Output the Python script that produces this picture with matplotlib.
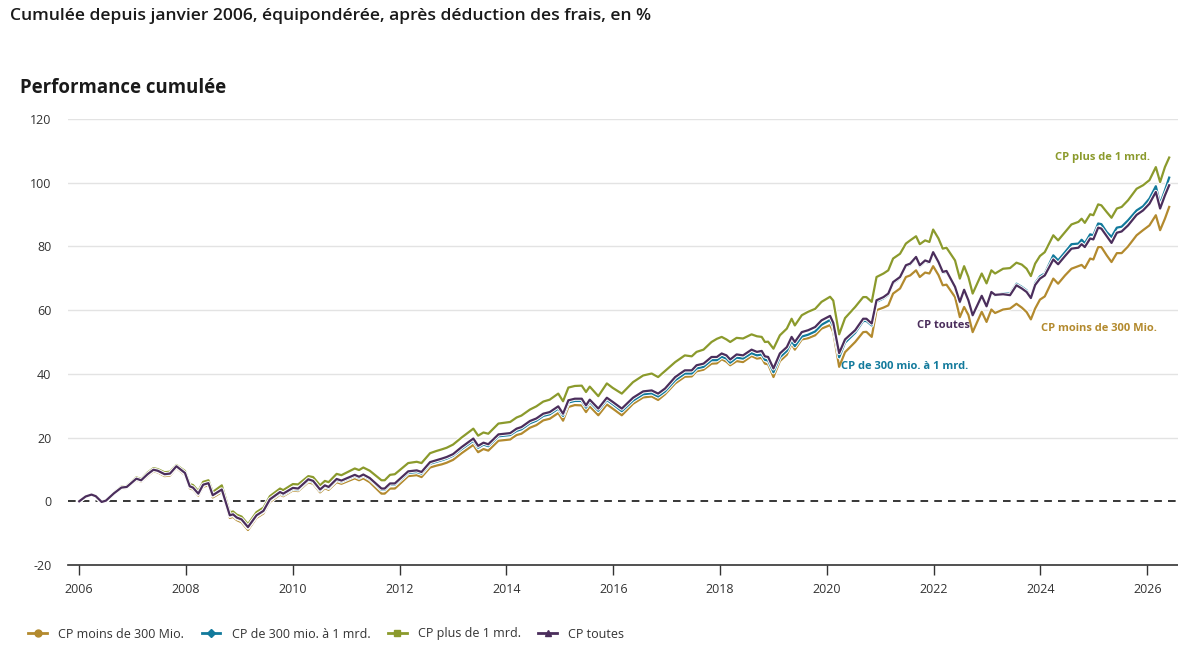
import matplotlib
matplotlib.use("Agg")
import matplotlib.pyplot as plt
import matplotlib.patheffects as pe
from matplotlib.lines import Line2D

plt.rcParams['font.family'] = ['Open Sans', 'DejaVu Sans']
plt.rcParams['axes.unicode_minus'] = False

# dates as decimal years
t = [2006.00, 2006.12, 2006.23, 2006.31, 2006.42, 2006.50, 2006.65, 2006.79, 2006.89,
     2007.07, 2007.16, 2007.28, 2007.39, 2007.47, 2007.60, 2007.70, 2007.82, 2007.98,
     2008.07, 2008.13, 2008.23, 2008.32, 2008.42, 2008.50, 2008.67, 2008.82, 2008.88, 2008.95,
     2009.04, 2009.16, 2009.32, 2009.45, 2009.57, 2009.76, 2009.82,
     2010.00, 2010.10, 2010.29, 2010.38, 2010.51, 2010.60, 2010.67, 2010.82, 2010.91,
     2011.16, 2011.24, 2011.32, 2011.44, 2011.66, 2011.72, 2011.82, 2011.91,
     2012.16, 2012.32, 2012.41, 2012.57, 2012.69, 2012.79, 2012.88,
     2013.00, 2013.16, 2013.38, 2013.47, 2013.57, 2013.66, 2013.85,
     2014.07, 2014.19, 2014.28, 2014.44, 2014.56, 2014.69, 2014.81, 2014.97,
     2015.06, 2015.16, 2015.28, 2015.41, 2015.49, 2015.56, 2015.72, 2015.88, 2015.99,
     2016.16, 2016.37, 2016.56, 2016.72, 2016.84, 2016.97,
     2017.16, 2017.34, 2017.47, 2017.56, 2017.69, 2017.84, 2017.94,
     2018.03, 2018.12, 2018.19, 2018.31, 2018.43, 2018.59, 2018.69, 2018.78, 2018.84, 2018.90,
     2019.00, 2019.12, 2019.25, 2019.34, 2019.40, 2019.53, 2019.65, 2019.78, 2019.90,
     2020.06, 2020.12, 2020.23, 2020.34, 2020.53, 2020.68, 2020.74, 2020.84, 2020.93,
     2021.06, 2021.15, 2021.24, 2021.37, 2021.48, 2021.56, 2021.67, 2021.74, 2021.84, 2021.92, 2021.99,
     2022.09, 2022.17, 2022.24, 2022.40, 2022.49, 2022.57, 2022.65, 2022.73, 2022.90, 2022.99,
     2023.08, 2023.15, 2023.30, 2023.43, 2023.55, 2023.65, 2023.74, 2023.82, 2023.90, 2023.99,
     2024.08, 2024.24, 2024.33, 2024.46, 2024.58, 2024.71, 2024.77, 2024.83, 2024.93, 2024.99,
     2025.08, 2025.14, 2025.24, 2025.33, 2025.43, 2025.52, 2025.64, 2025.80, 2025.92,
     2026.04, 2026.16, 2026.24, 2026.33, 2026.41]

toutes = [0.0, 1.5, 2.1, 1.6, -0.2, 0.2, 2.5, 4.3, 4.5,
          7.1, 6.6, 8.5, 9.9, 9.6, 8.5, 8.7, 11.0, 8.9,
          4.7, 4.3, 2.4, 5.2, 5.7, 1.9, 3.7, -4.4, -4.1, -5.1,
          -5.7, -8.1, -4.4, -3.0, 0.6, 2.9, 2.4,
          4.2, 4.0, 6.9, 6.4, 3.7, 5.0, 4.5, 7.0, 6.5,
          8.3, 7.7, 8.4, 7.3, 4.0, 4.0, 5.6, 5.6,
          9.4, 9.7, 9.2, 12.3, 12.9, 13.4, 13.9,
          14.8, 17.0, 19.7, 17.4, 18.4, 17.9, 21.0,
          21.4, 22.8, 23.3, 25.2, 26.0, 27.5, 28.0, 29.8,
          27.5, 31.7, 32.2, 32.2, 30.1, 31.9, 29.1, 32.5, 31.2,
          29.1, 32.5, 34.5, 34.8, 33.8, 35.4,
          39.0, 41.1, 41.1, 42.7, 43.2, 45.3, 45.3,
          46.4, 45.8, 44.5, 46.1, 45.8, 47.6, 46.9, 47.2, 45.5, 45.3,
          41.7, 46.4, 48.4, 51.6, 50.0, 53.1, 53.7, 54.7, 56.8,
          58.2, 56.0, 46.5, 50.8, 53.7, 57.3, 57.3, 55.8, 63.1,
          64.1, 65.2, 68.8, 70.4, 74.1, 74.6, 76.7, 74.1, 75.6, 75.1, 78.2,
          75.1, 72.0, 72.3, 67.3, 62.6, 66.4, 63.1, 58.4, 64.5, 61.2,
          65.7, 64.8, 65.0, 64.7, 67.8, 66.8, 65.7, 63.8, 67.9, 69.9,
          70.9, 75.9, 74.4, 77.0, 79.3, 79.6, 80.7, 79.8, 82.5, 82.2,
          85.9, 85.6, 83.2, 81.1, 84.3, 84.7, 86.6, 89.9, 91.3,
          93.4, 97.1, 91.9, 96.0, 99.2]

plus_1mrd = [0.0, 1.6, 2.2, 1.7, -0.1, 0.3, 2.7, 4.6, 4.8,
             7.5, 7.0, 9.0, 10.4, 10.1, 9.1, 9.3, 11.4, 9.5,
             5.4, 5.1, 3.2, 6.1, 6.6, 2.9, 5.0, -3.5, -3.2, -4.2,
             -4.8, -7.2, -3.4, -2.0, 1.6, 4.0, 3.5,
             5.4, 5.3, 7.9, 7.6, 5.0, 6.4, 6.0, 8.6, 8.2,
             10.3, 9.8, 10.6, 9.6, 6.6, 6.6, 8.3, 8.5,
             12.0, 12.4, 12.0, 15.1, 15.8, 16.3, 16.8,
             17.8, 20.0, 22.8, 20.6, 21.6, 21.2, 24.4,
             24.9, 26.3, 26.9, 28.8, 29.8, 31.3, 31.9, 33.8,
             31.4, 35.7, 36.2, 36.3, 34.3, 36.0, 33.0, 37.0, 35.6,
             33.8, 37.4, 39.5, 40.1, 39.0, 40.9,
             43.7, 45.8, 45.5, 46.9, 47.6, 50.0, 51.0,
             51.6, 50.8, 50.0, 51.3, 51.1, 52.4, 51.8, 51.6, 50.0, 50.1,
             47.9, 52.1, 54.2, 57.3, 55.2, 58.4, 59.5, 60.4, 62.6,
             64.2, 63.0, 52.4, 57.5, 61.0, 64.1, 64.1, 62.6, 70.4,
             71.5, 72.5, 76.2, 77.7, 80.9, 81.9, 83.2, 80.7, 81.9, 81.4, 85.3,
             82.5, 79.3, 79.6, 75.6, 69.9, 73.8, 70.4, 65.2, 71.5, 68.4,
             72.5, 71.5, 73.0, 73.2, 74.9, 74.3, 73.0, 70.7, 74.6, 77.0,
             78.2, 83.5, 81.9, 84.5, 86.9, 87.7, 88.7, 87.4, 90.1, 89.8,
             93.2, 92.9, 90.8, 89.0, 91.9, 92.4, 94.5, 98.1, 99.2,
             100.8, 104.9, 100.2, 104.9, 107.9]

de_300_a_1mrd = [0.0, 1.5, 2.0, 1.6, -0.2, 0.2, 2.4, 4.2, 4.4,
                 7.0, 6.5, 8.4, 9.8, 9.5, 8.4, 8.6, 10.9, 8.8,
                 4.6, 4.2, 2.3, 5.1, 5.6, 1.8, 3.5, -4.6, -4.3, -5.3,
                 -5.9, -8.3, -4.6, -3.2, 0.4, 2.6, 2.1,
                 3.9, 3.7, 6.6, 6.1, 3.4, 4.7, 4.2, 6.7, 6.2,
                 8.0, 7.4, 8.1, 7.0, 3.6, 3.6, 5.2, 5.2,
                 8.9, 9.2, 8.7, 11.8, 12.4, 12.9, 13.4,
                 14.3, 16.4, 19.0, 16.8, 17.8, 17.3, 20.4,
                 20.8, 22.1, 22.6, 24.5, 25.3, 26.8, 27.3, 29.1,
                 26.8, 31.0, 31.5, 31.5, 29.4, 31.2, 28.4, 31.8, 30.5,
                 28.3, 31.6, 33.6, 33.9, 32.9, 34.5,
                 38.0, 40.1, 40.1, 41.7, 42.2, 44.3, 44.3,
                 45.4, 44.8, 43.5, 45.1, 44.8, 46.5, 45.8, 46.1, 44.4, 44.2,
                 40.5, 45.2, 47.2, 50.3, 48.7, 51.7, 52.3, 53.3, 55.4,
                 56.9, 54.8, 45.2, 49.8, 52.9, 56.6, 56.6, 55.2, 62.6,
                 63.7, 64.8, 68.4, 70.1, 73.8, 74.3, 76.4, 73.8, 75.3, 74.8, 77.9,
                 74.8, 71.7, 72.0, 67.1, 62.4, 66.2, 62.9, 58.3, 64.0, 61.3,
                 65.6, 64.6, 65.3, 65.2, 68.3, 67.3, 66.2, 64.1, 68.5, 70.6,
                 71.5, 77.2, 75.6, 78.2, 80.7, 80.9, 82.1, 81.0, 83.8, 83.5,
                 87.2, 87.0, 84.5, 83.0, 85.9, 86.2, 88.2, 91.3, 92.6,
                 95.0, 98.9, 93.4, 97.6, 101.6]

moins_300 = [0.0, 1.4, 1.9, 1.4, -0.4, 0.0, 2.2, 4.0, 4.2,
             6.7, 6.2, 8.0, 9.4, 9.1, 7.9, 8.1, 10.5, 8.3,
             4.1, 3.7, 1.8, 4.6, 5.0, 1.2, 2.9, -5.2, -4.9, -5.9,
             -6.6, -9.0, -5.2, -3.8, -0.2, 2.1, 1.6,
             3.4, 3.2, 6.0, 5.5, 2.8, 4.1, 3.6, 6.0, 5.5,
             7.2, 6.6, 7.2, 6.0, 2.4, 2.4, 4.0, 4.0,
             7.9, 8.2, 7.6, 10.6, 11.2, 11.6, 12.1,
             13.0, 15.1, 17.7, 15.4, 16.4, 15.9, 19.0,
             19.4, 20.8, 21.2, 23.1, 23.9, 25.4, 25.9, 27.7,
             25.3, 29.6, 30.2, 30.1, 28.0, 29.8, 27.0, 30.4, 29.1,
             27.0, 30.6, 32.6, 32.9, 31.8, 33.6,
             37.0, 39.1, 39.2, 40.8, 41.3, 43.2, 43.3,
             44.6, 43.8, 42.7, 44.0, 43.7, 45.6, 44.8, 45.0, 43.2, 43.0,
             39.0, 44.0, 46.0, 49.4, 47.6, 50.8, 51.2, 52.1, 54.2,
             55.3, 53.1, 42.2, 46.8, 50.0, 53.1, 53.2, 51.6, 60.0,
             60.8, 61.5, 65.2, 66.8, 70.4, 70.9, 72.5, 70.4, 71.8, 71.5, 73.8,
             71.0, 67.8, 68.0, 64.1, 57.8, 61.0, 58.5, 53.1, 59.5, 56.3,
             60.2, 59.1, 60.2, 60.5, 62.0, 60.8, 59.4, 57.1, 60.5, 63.3,
             64.3, 69.9, 68.3, 70.9, 73.0, 73.8, 74.2, 73.2, 76.2, 75.9,
             79.8, 79.8, 77.2, 75.1, 77.9, 77.9, 80.0, 83.5, 85.1,
             86.6, 89.8, 85.1, 88.7, 92.4]

series = [
    ("CP moins de 300 Mio.", moins_300, "#b38a2e", "o"),
    ("CP de 300 mio. à 1 mrd.", de_300_a_1mrd, "#127a9c", "D"),
    ("CP plus de 1 mrd.", plus_1mrd, "#8b9a2c", "s"),
    ("CP toutes", toutes, "#4b2e5c", "^"),
]

fig = plt.figure(figsize=(11.78, 6.45), dpi=100)
ax = fig.add_axes([68 / 1178, 1 - 565 / 645, (1178 - 68) / 1178, (565 - 119) / 645])

halo = [pe.Stroke(linewidth=3.0, foreground="white"), pe.Normal()]
for name, vals, col, mk in series:
    ax.plot(t, vals, color=col, lw=1.6, path_effects=halo, solid_joinstyle="round", zorder=3)

ax.axhline(0, color="black", lw=1.1, ls=(0, (5, 4)), zorder=2)

ax.set_xlim(2005.79, 2026.575)
ax.set_ylim(-20, 120)
ax.set_yticks(range(-20, 121, 20))
ax.set_xticks(range(2006, 2027, 2))
for y in range(20, 121, 20):
    ax.axhline(y, color="#e3e3e3", lw=1, zorder=1)

for s in ["top", "right", "left"]:
    ax.spines[s].set_visible(False)
ax.spines["bottom"].set_color("#333333")
ax.spines["bottom"].set_linewidth(1.2)
ax.tick_params(axis="y", length=0, pad=12, labelsize=9, labelcolor="#333333")
ax.tick_params(axis="x", length=7, width=1, color="#333333", pad=6, labelsize=9, labelcolor="#333333")

# line labels
lab = dict(fontsize=8, fontweight="bold")
ax.text(2026.06, 108, "CP plus de 1 mrd.", color="#8b9a2c", ha="right", va="center", **lab)
ax.text(2022.18, 55.2, "CP toutes", color="#4b2e5c", ha="center", va="center", **lab)
ax.text(2025.1, 54.3, "CP moins de 300 Mio.", color="#b38a2e", ha="center", va="center", **lab)
ax.text(2021.45, 42.2, "CP de 300 mio. à 1 mrd.", color="#127a9c", ha="center", va="center", **lab)

fig.text(10 / 1178, 1 - 16 / 645, "Cumulée depuis janvier 2006, équipondérée, après déduction des frais, en %",
         fontsize=12.6, fontweight="semibold", color="#1a1a1a", va="center", ha="left")
fig.text(20 / 1178, 1 - 88 / 645, "Performance cumulée", fontsize=13.4, fontweight="bold",
         color="#1a1a1a", va="center", ha="left")

handles = [Line2D([], [], color=col, marker=mk, lw=2, markersize=5 if mk != "D" else 4)
           for name, vals, col, mk in series]
fig.legend(handles, [s[0] for s in series], loc="center left", bbox_to_anchor=(17 / 1178, 1 - 634 / 645),
           ncol=4, frameon=False, fontsize=9, handlelength=1.5, handletextpad=0.9, columnspacing=1.4,
           labelcolor="#333333")

fig.savefig("out.png", dpi=100)
